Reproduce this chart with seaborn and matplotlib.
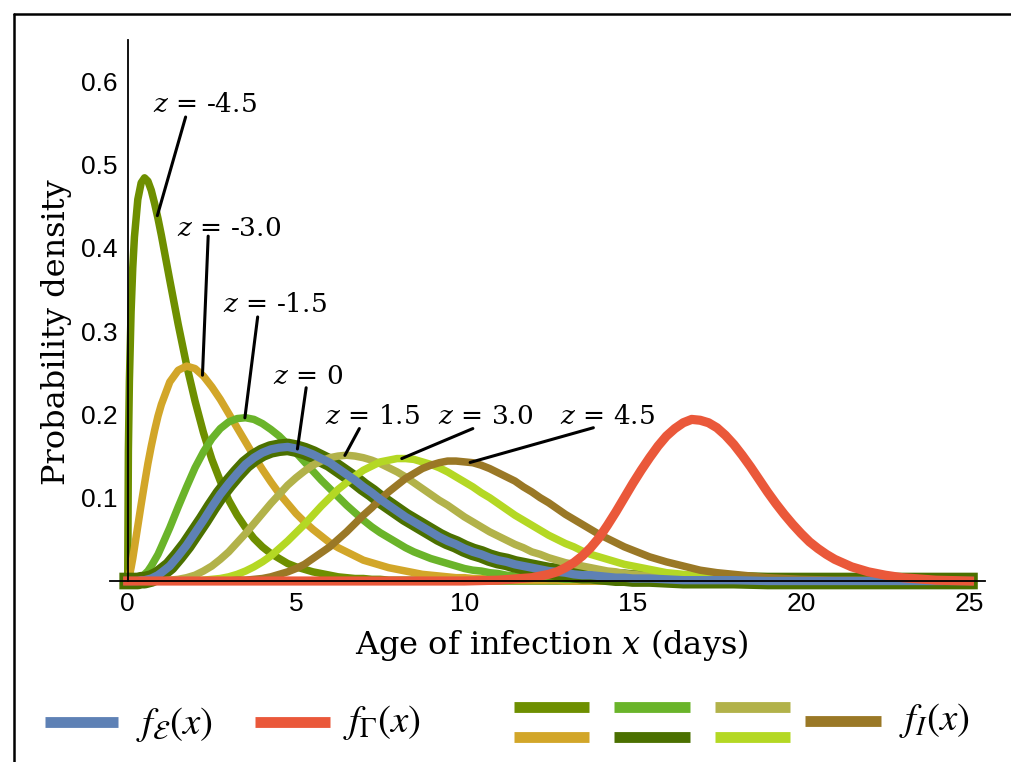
import numpy as np
import pandas as pd
import matplotlib
matplotlib.use('Agg')
import matplotlib.pyplot as plt
import seaborn as sns
from matplotlib.lines import Line2D
from matplotlib.ticker import FixedLocator

sns.set_theme(style='white')
plt.rcParams['font.family'] = ['Liberation Sans', 'DejaVu Sans']

# ---------------- data ----------------
# sampling grid of x (days)
x_grid = [0, 0.02, 0.05, 0.1, 0.15, 0.2, 0.3, 0.4, 0.5, 0.6, 0.7, 0.8, 0.9,
          1.0, 1.25, 1.5, 1.75, 2.0, 2.25, 2.5, 2.75, 3.0, 3.25, 3.5, 3.75, 4.0, 4.25, 4.5, 4.75,
          5.0, 5.25, 5.5, 5.75, 6.0, 6.25, 6.5, 6.75, 7.0, 7.25, 7.5, 7.75, 8.0, 8.25, 8.5, 8.75,
          9.0, 9.25, 9.5, 9.75, 10.0, 10.25, 10.5, 10.75, 11.0, 11.25, 11.5, 11.75, 12.0, 12.25,
          12.5, 12.75, 13.0, 13.25, 13.5, 13.75, 14.0, 14.25, 14.5, 14.75, 15.0,
          15.5, 16, 16.5, 17, 17.5, 18, 19, 20, 21, 22, 23, 24, 25]

z_labels = ['-4.5', '-3.0', '-1.5', '0', '1.5', '3.0', '4.5']

# densities in thousandths; first_idx = index in x_grid of first listed value
fI_first_idx = {'-4.5': 1, '-3.0': 1, '-1.5': 5, '0': 7, '1.5': 14, '3.0': 18, '4.5': 22}
fI_milli = {
    '-4.5': [156, 240, 323, 376, 413, 458, 478, 484, 480, 469, 453, 435, 415, 361, 308, 259, 216, 178,
             146, 120, 97, 79, 64, 51, 41, 33, 27, 21, 17, 14, 11, 9, 7, 5, 4, 3, 3, 2, 2, 1, 1, 1, 1, 1],
    '-3.0': [2, 6, 16, 27, 40, 66, 92, 117, 141, 162, 181, 198, 212, 239, 253, 258, 255, 246, 233, 218,
             201, 184, 167, 150, 134, 119, 105, 93, 81, 71, 62, 54, 46, 40, 35, 30, 25, 22, 19, 16, 14,
             12, 10, 8, 7, 6, 5, 4, 4, 3, 3, 2, 2, 2, 1, 1, 1, 1, 1, 1],
    '-1.5': [1, 2, 4, 8, 12, 18, 25, 32, 41, 64, 89, 113, 136, 155, 171, 183, 191, 195, 196, 194, 189,
             182, 174, 164, 154, 143, 132, 121, 111, 101, 91, 82, 73, 65, 58, 52, 46, 40, 35, 31, 27,
             24, 21, 18, 15, 13, 12, 10, 9, 7, 6, 5, 5, 4, 3, 3, 2, 2, 2, 2, 1, 1, 1, 1, 1],
    '0': [1, 1, 2, 3, 5, 7, 10, 18, 30, 43, 58, 73, 89, 104, 117, 129, 140, 148, 154, 158, 160, 161,
          159, 156, 152, 147, 142, 135, 128, 121, 113, 106, 98, 91, 84, 77, 71, 65, 59, 53, 48, 44, 39,
          35, 32, 28, 25, 23, 20, 18, 16, 14, 12, 11, 10, 8, 7, 7, 6, 5, 4, 4, 3, 3, 2, 1, 1, 1, 1],
    '1.5': [1, 2, 4, 7, 12, 18, 26, 35, 46, 57, 69, 81, 93, 104, 115, 124, 132, 139, 144, 148, 150, 151,
            150, 148, 145, 141, 136, 131, 125, 118, 111, 104, 97, 91, 84, 77, 71, 65, 59, 54, 49, 44,
            40, 35, 32, 28, 25, 22, 20, 18, 16, 14, 12, 11, 9, 8, 6, 5, 3, 3, 2, 1, 1],
    '3.0': [1, 2, 3, 5, 8, 12, 17, 23, 30, 39, 48, 58, 68, 79, 90, 100, 110, 118, 126, 133, 138, 143,
            145, 147, 147, 146, 143, 140, 136, 131, 125, 119, 113, 106, 100, 93, 86, 79, 73, 67, 61, 55,
            50, 45, 41, 36, 32, 29, 26, 23, 20, 18, 14, 10, 8, 6, 4, 3, 2, 1],
    '4.5': [1, 1, 2, 3, 5, 8, 11, 15, 20, 27, 34, 41, 50, 59, 69, 79, 88, 98, 107, 115, 123, 129, 135,
            139, 142, 144, 144, 143, 142, 139, 135, 130, 125, 120, 113, 107, 100, 94, 87, 80, 74, 68,
            62, 56, 51, 46, 41, 37, 29, 23, 18, 13, 10, 8, 4, 2, 1, 1],
}
# f_E(x) coincides with the z = 0 curve in the reference
fE_milli = fI_milli['0']

red_x = [0, 5, 10, 11, 12, 12.25, 12.5, 12.75, 13, 13.25, 13.5, 13.75, 14, 14.25, 14.5, 14.75, 15,
         15.25, 15.5, 15.75, 16, 16.25, 16.5, 16.75, 17, 17.25, 17.5, 17.75, 18, 18.25, 18.5, 18.75,
         19, 19.25, 19.5, 19.75, 20, 20.25, 20.5, 20.75, 21, 21.5, 22, 22.5, 23, 24, 25]
red_y = [0, 0, 0, 0.001, 0.004, 0.006, 0.008, 0.011, 0.016, 0.022, 0.030, 0.040, 0.052, 0.067, 0.083,
         0.100, 0.117, 0.133, 0.148, 0.162, 0.174, 0.183, 0.190, 0.194, 0.193, 0.190, 0.184, 0.175,
         0.164, 0.151, 0.137, 0.122, 0.107, 0.093, 0.080, 0.068, 0.057, 0.047, 0.039, 0.032, 0.026,
         0.017, 0.011, 0.007, 0.004, 0.001, 0.0]

fI_colors = ['#6e8f00', '#d2a629', '#6ab42a', '#4b7000', '#b2b24a', '#b4d824', '#9a7826']
blue = '#5e81b5'
red = '#ea583a'


def curve(first, vals):
    last = first + len(vals) - 1
    xv = [x_grid[0]] + x_grid[first - 1:last + 2] + [x_grid[-1]]
    yv = [0.0, 0.0] + [v / 1000 for v in vals] + [0.0, 0.0]
    return pd.DataFrame({'x': xv, 'y': yv})


curves = {z: curve(fI_first_idx[z], fI_milli[z]) for z in z_labels}
fE_df = curve(fI_first_idx['0'], fE_milli)
red_df = pd.DataFrame({'x': red_x, 'y': red_y})

# ---------------- figure ----------------
fig = plt.figure(figsize=(10.11, 7.62), dpi=100)
ax = fig.add_axes([0.109, 0.2244, 0.8649, 0.7237])

kw = dict(sort=False, estimator=None, solid_capstyle='projecting', solid_joinstyle='round')
for i, z in enumerate(z_labels):
    sns.lineplot(data=curves[z], x='x', y='y', ax=ax, color=fI_colors[i],
                 lw=(12.0 if z == '0' else 5.4), **kw)
sns.lineplot(data=fE_df, x='x', y='y', ax=ax, color=blue, lw=6.0, **kw)
sns.lineplot(data=red_df, x='x', y='y', ax=ax, color=red, lw=6.6, **kw)

ax.set_xlim(-0.52, 25.45)
ax.set_ylim(-0.012, 0.65)
for s in ['top', 'right']:
    ax.spines[s].set_visible(False)
ax.spines['left'].set_position(('data', 0))
ax.spines['bottom'].set_position(('data', 0))
ax.spines['left'].set_bounds(0, 0.65)
for s in ['left', 'bottom']:
    ax.spines[s].set_color('black')
    ax.spines[s].set_linewidth(1.3)
ax.set_axisbelow(False)
ax.xaxis.set_major_locator(FixedLocator([0, 5, 10, 15, 20, 25]))
ax.xaxis.set_minor_locator(FixedLocator(list(range(0, 26))))
ax.yaxis.set_major_locator(FixedLocator([0.1, 0.2, 0.3, 0.4, 0.5, 0.6]))
ax.yaxis.set_minor_locator(FixedLocator([round(0.02 * i, 2) for i in range(1, 33)]))
ax.set_xticklabels(['0', '5', '10', '15', '20', '25'])
ax.set_yticklabels(['0.1', '0.2', '0.3', '0.4', '0.5', '0.6'])
ax.tick_params(axis='both', which='both', direction='in', colors='black', labelsize=19)
ax.tick_params(axis='both', which='major', length=7, width=1.2)
ax.tick_params(axis='both', which='minor', length=3.8, width=1.2)
ax.tick_params(axis='x', which='major', pad=8)
ax.tick_params(axis='y', which='major', pad=7)
ax.set_xlabel('')
ax.set_ylabel('')

fig.text(57 / 1011, 1 - 332 / 762, 'Probability density', rotation=90, ha='center', va='center',
         family='DejaVu Serif', fontsize=23, color='black')
fig.text(552 / 1011, 1 - 645 / 762, 'Age of infection $x$ (days)', ha='center', va='center',
         family='DejaVu Serif', fontsize=23, color='black', math_fontfamily='dejavuserif')

# curve labels with leader lines
label_text_pos = {'-4.5': (205, 104), '-3.0': (229, 228), '-1.5': (275, 305), '0': (308, 377),
                  '1.5': (372, 416), '3.0': (486, 416), '4.5': (607, 416)}
leader_start = {'-4.5': (1.72, 0.557), '-3.0': (2.39, 0.414), '-1.5': (3.86, 0.317), '0': (5.30, 0.232),
                '1.5': (6.88, 0.183), '3.0': (10.25, 0.183), '4.5': (13.83, 0.184)}
leader_end_x = {'-4.5': 0.88, '-3.0': 2.22, '-1.5': 3.48, '0': 5.04, '1.5': 6.45, '3.0': 8.14, '4.5': 10.17}
for z in z_labels:
    px, py = label_text_pos[z]
    fig.text(px / 1011, 1 - py / 762, '$z$ = ' + z, ha='center', va='center', family='DejaVu Serif',
             fontsize=19, color='black', math_fontfamily='dejavuserif')
    xe = leader_end_x[z]
    ye = float(np.interp(xe, curves[z]['x'], curves[z]['y']))
    ax.annotate('', xy=(xe, ye), xytext=leader_start[z],
                arrowprops=dict(arrowstyle='-', lw=2.2, color='black', shrinkA=0, shrinkB=0))

# legend
def swatch(x0, x1, y, color):
    fig.add_artist(Line2D([x0 / 1011, x1 / 1011], [1 - y / 762, 1 - y / 762], color=color, lw=7.8,
                          solid_capstyle='butt', transform=fig.transFigure))

swatch(45, 118, 722, blue)
fig.text(136 / 1011, 1 - 724 / 762, r'$f_{\mathcal{E}}(x)$', ha='left', va='center', fontsize=28,
         math_fontfamily='stix', color='black')
swatch(255, 330, 722, red)
fig.text(343 / 1011, 1 - 722 / 762, r'$f_{\mathit{\Gamma}}(x)$', ha='left', va='center', fontsize=28,
         math_fontfamily='stix', color='black')
cols = [(514, 589), (614, 690), (715, 790)]
for i in range(6):
    c = cols[i // 2]
    swatch(c[0], c[1], 706.5 if i % 2 == 0 else 736.5, fI_colors[i])
swatch(805, 881, 721, fI_colors[6])
fig.text(899 / 1011, 1 - 720 / 762, r'$f_{I}(x)$', ha='left', va='center', fontsize=28,
         math_fontfamily='stix', color='black')

# frame lines (top and left)
fig.add_artist(Line2D([14 / 1011, 14 / 1011], [0, 1 - 14 / 762], color='black', lw=1.8,
                      transform=fig.transFigure))
fig.add_artist(Line2D([14 / 1011, 1], [1 - 14 / 762, 1 - 14 / 762], color='black', lw=1.8,
                      transform=fig.transFigure))

fig.savefig('out.png', dpi=100, facecolor='white')
